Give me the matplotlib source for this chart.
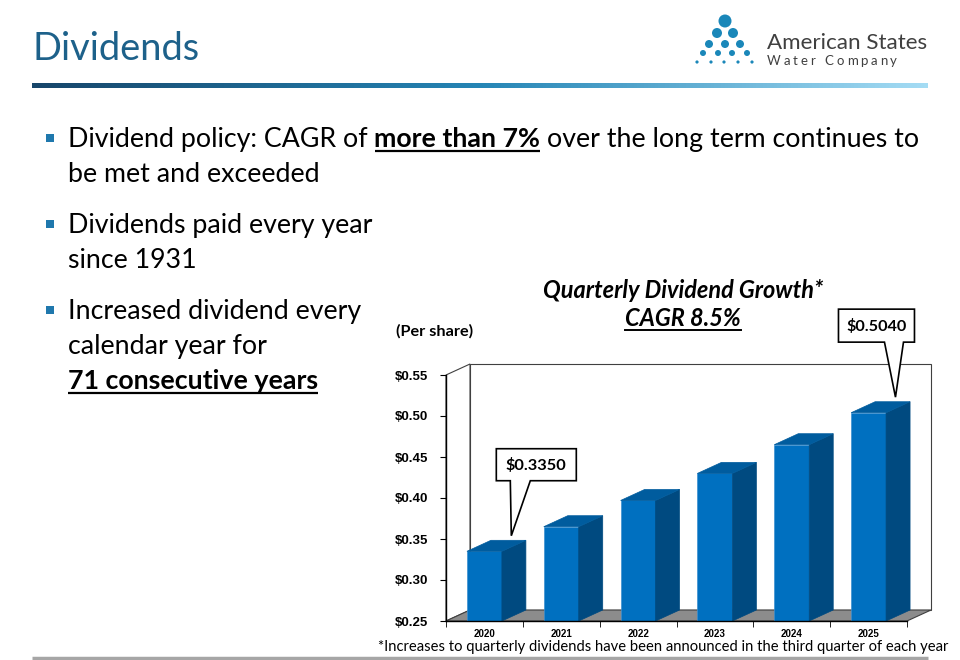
import matplotlib
matplotlib.use('Agg')
import matplotlib.pyplot as plt
import numpy as np
from matplotlib.patches import Polygon, Rectangle, Circle
from matplotlib.colors import LinearSegmentedColormap

# chart data
years = ['2020', '2021', '2022', '2023', '2024', '2025']
dividend = [0.335, 0.365, 0.397, 0.430, 0.465, 0.504]
y_ticks = [0.25, 0.30, 0.35, 0.40, 0.45, 0.50, 0.55]
callout_text = {0: '$0.3350', 5: '$0.5040'}

SANS = ['Lato', 'DejaVu Sans']
ARIAL = ['Liberation Sans', 'DejaVu Sans']
BLUE = '#0070c0'
SIDE = '#004a80'
TOP = '#005c9e'

fig = plt.figure(figsize=(9.6, 6.6), dpi=100)
renderer = fig.canvas.get_renderer()

# slide background axes in pixel units (origin top-left)
bg = fig.add_axes([0, 0, 1, 1])
bg.set_xlim(0, 960)
bg.set_ylim(660, 0)
bg.axis('off')


def text_w(s, **kw):
    t = bg.text(0, 0, s, **kw)
    w = t.get_window_extent(renderer).width
    t.remove()
    return w


def fit(s, target, **kw):
    return 20 * target / text_w(s, fontsize=20, **kw)


def rich_line(x, y, parts, size, color='black'):
    sp = text_w('a a', fontsize=size, family=SANS) - text_w('aa', fontsize=size, family=SANS)
    for s, bold, under in parts:
        wt = 'bold' if bold else 'normal'
        w = text_w(s, fontsize=size, family=SANS, fontweight=wt)
        bg.text(x, y, s, fontsize=size, family=SANS, fontweight=wt, color=color,
                ha='left', va='baseline')
        if under:
            bg.plot([x, x + w], [y + 4, y + 4], color=color, lw=1.6, solid_capstyle='butt')
        x += w + sp
    return x


# title + header bar
bg.text(33, 60, 'Dividends', fontsize=fit('Dividends', 168, family=SANS), family=SANS,
        color='#1d618a', ha='left', va='baseline')
grad = LinearSegmentedColormap.from_list('hdr', ['#17466a', '#2585b5', '#a4dcf4'])
bg.imshow(np.linspace(0, 1, 256).reshape(1, -1), cmap=grad, aspect='auto',
          extent=[32, 928, 88, 83], zorder=1)
bg.set_xlim(0, 960)
bg.set_ylim(660, 0)

# logo
dot_rows = [(21, [725], 6.5), (33, [717, 733], 5), (44, [709, 725, 740], 4),
            (53, [703, 718, 732, 747], 3), (62, [697, 711, 724, 738, 752], 1.6)]
for yy, xs, r in dot_rows:
    for xx in xs:
        bg.add_patch(Circle((xx, yy), r, color='#1a87b9', lw=0))
bg.text(767, 49, 'American States', fontsize=fit('American States', 160, family=SANS),
        family=SANS, color='#404040', ha='left', va='baseline')
wc = 'Water Company'
wc_size = 9.5
widths = [text_w(c, fontsize=wc_size, family=SANS) if c != ' ' else 4 for c in wc]
track = (130 - sum(widths)) / (len(wc) - 1)
xx = 767
for c, w in zip(wc, widths):
    bg.text(xx, 65, c, fontsize=wc_size, family=SANS, color='#404040', ha='left', va='baseline')
    xx += w + track

# bullets
line1 = [('Dividend policy: CAGR of', False, False), ('more than 7%', True, True),
         ('over the long term continues to', False, False)]
tot = sum(text_w(s, fontsize=20, family=SANS, fontweight='bold' if b else 'normal')
          for s, b, u in line1) + 2 * (text_w('a a', fontsize=20, family=SANS) - text_w('aa', fontsize=20, family=SANS))
bsize = 20 * 852 / tot
bullets = [
    (147, [line1, [('be met and exceeded', False, False)]]),
    (233, [[('Dividends paid every year', False, False)], [('since 1931', False, False)]]),
    (319, [[('Increased dividend every', False, False)], [('calendar year for', False, False)],
           [('71 consecutive years', True, True)]]),
]
for y0, lines in bullets:
    bg.add_patch(Rectangle((46, y0 - 13), 8, 8, color='#1f78ad', lw=0))
    for k, parts in enumerate(lines):
        rich_line(68, y0 + k * 35, parts, bsize)

# chart titles
tsize = fit('Quarterly Dividend Growth*', 280, family=SANS, fontweight='bold', style='italic')
bg.text(683, 298, 'Quarterly Dividend Growth*', fontsize=tsize, family=SANS,
        fontweight='bold', style='italic', ha='center', va='baseline')
bg.text(683, 326, 'CAGR 8.5%', fontsize=tsize, family=SANS,
        fontweight='bold', style='italic', ha='center', va='baseline')
cw = text_w('CAGR 8.5%', fontsize=tsize, family=SANS, fontweight='bold', style='italic')
bg.plot([683 - cw / 2, 683 + cw / 2], [330, 330], color='black', lw=1.4)
bg.text(396, 336, '(Per share)', fontsize=fit('(Per share)', 77, family=SANS, fontweight='bold'),
        family=SANS, fontweight='bold', ha='left', va='baseline')

# footnote + bottom rule
note = '*Increases to quarterly dividends have been announced in the third quarter of each year'
bg.text(378, 651, note, fontsize=fit(note, 572, family=SANS), family=SANS,
        ha='left', va='baseline')
bg.plot([32, 928], [658, 658], color='#a6a6a6', lw=2.5, solid_capstyle='butt')

# 3d-look bar chart
X0, X1, YT, YB = 446, 907, 375, 621
ax = fig.add_axes([X0 / 960, (660 - YB) / 660, (X1 - X0) / 960, (YB - YT) / 660])
ax.set_xlim(-0.5, 5.5)
ax.set_ylim(0.25, 0.55)
ax.patch.set_alpha(0)
dx = 24 / ((X1 - X0) / 6)
dy = 11 / ((YB - YT) / 0.30)
edge = '#404040'

ax.add_patch(Rectangle((-0.5 + dx, 0.25 + dy), 6, 0.30, facecolor='white', edgecolor=edge,
                       lw=0.8, clip_on=False, zorder=0))
ax.add_patch(Polygon([(-0.5, 0.25), (-0.5, 0.55), (-0.5 + dx, 0.55 + dy), (-0.5 + dx, 0.25 + dy)],
                     facecolor='white', edgecolor=edge, lw=0.8, clip_on=False, zorder=0.5))
ax.add_patch(Polygon([(-0.5, 0.25), (5.5, 0.25), (5.5 + dx, 0.25 + dy), (-0.5 + dx, 0.25 + dy)],
                     facecolor='#8c8c8c', edgecolor=edge, lw=0.8, clip_on=False, zorder=0.8))

w = 0.455
xs = np.arange(len(years))
ax.bar(xs, np.array(dividend) - 0.25, bottom=0.25, width=w, color=BLUE,
       edgecolor='#3b8fd0', lw=0.5, zorder=2, clip_on=False)
for i, v in zip(xs, dividend):
    r = i + w / 2
    l = i - w / 2
    ax.add_patch(Polygon([(r, 0.25), (r, v), (r + dx, v + dy), (r + dx, 0.25 + dy)],
                         facecolor=SIDE, edgecolor=SIDE, lw=0.5, clip_on=False, zorder=2))
    ax.add_patch(Polygon([(l, v), (r, v), (r + dx, v + dy), (l + dx, v + dy)],
                         facecolor=TOP, edgecolor=TOP, lw=0.5, clip_on=False, zorder=2))

for s in ['top', 'right']:
    ax.spines[s].set_visible(False)
ax.spines['left'].set_linewidth(1)
ax.spines['bottom'].set_linewidth(1)
ax.spines['left'].set_zorder(3)
ax.spines['bottom'].set_zorder(3)
ax.set_yticks(y_ticks)
ax.set_yticklabels(['$%.2f' % t for t in y_ticks], family=ARIAL, fontweight='bold', fontsize=9.5)
ax.tick_params(axis='y', direction='out', length=4, pad=9)
ax.set_xticks(xs)
ax.set_xticklabels(years, family=ARIAL, fontweight='bold', fontsize=7)
ax.set_xticks(np.arange(-0.5, 6, 1), minor=True)
ax.tick_params(axis='x', which='major', length=0, pad=6)
ax.tick_params(axis='x', which='minor', direction='out', length=4)

# callouts (offsets from the tip, pixels), drawn on the chart axes above the walls
offs = {0: (-15, 65, -87, -55, -1, 19), 5: (-57, 19, -88, -55, -11, 8)}
for i, lab in callout_text.items():
    px, py = ax.transData.transform((i + 0.35, dividend[i] + 0.019))
    py = 660 - py
    L, R, T, B, bl, br = offs[i]
    verts = [(px + L, py + T), (px + R, py + T), (px + R, py + B), (px + br, py + B),
             (px, py), (px + bl, py + B), (px + L, py + B)]
    ax.add_patch(Polygon(verts, closed=True, facecolor='white', edgecolor='black', lw=1.2,
                         transform=bg.transData, clip_on=False, zorder=5))
    ax.text(px + (L + R) / 2, py + (T + B) / 2 + 1, lab, transform=bg.transData,
            fontsize=fit(lab, 61, family=SANS, fontweight='bold'), family=SANS,
            fontweight='bold', ha='center', va='center', zorder=6, clip_on=False)

fig.savefig('out.png', dpi=100)
